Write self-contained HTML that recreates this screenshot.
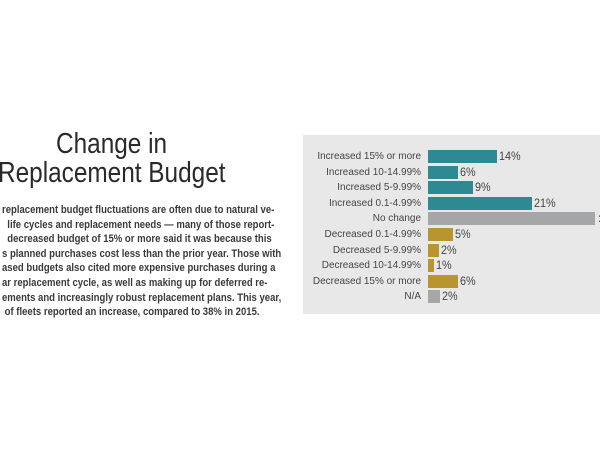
<!DOCTYPE html><html><head><style>
body{margin:0;width:600px;height:450px;background:#fff;position:relative;overflow:hidden;font-family:"Liberation Sans",sans-serif;color:#333}
.t{position:absolute;font-size:29px;white-space:nowrap;color:#2a2a2a;transform:scaleX(0.84);transform-origin:0 0}
.p{position:absolute;left:2px;top:203px;font-size:10.6px;font-weight:bold;line-height:14.6px;white-space:nowrap;color:#3a3a3a;transform:scaleX(0.9);transform-origin:0 0}
.panel{position:absolute;left:303px;top:135px;width:297px;height:179px;background:#e8e8e8}
.r{position:absolute;left:0;height:14px}
.l{position:absolute;width:140px;text-align:right;font-size:10.5px;line-height:14px;color:#444;transform:scaleX(0.95);transform-origin:100% 0}
.b{position:absolute;left:125px;top:1px;height:13px}
.v{position:absolute;top:0;font-size:12px;line-height:14px;color:#444;transform:scaleX(0.9);transform-origin:0 0}
</style></head><body>
<div class="t" style="left:56px;top:128px">Change in</div>
<div class="t" style="left:-2px;top:157px">Replacement Budget</div>
<div class="p">replacement budget fluctuations are often due to natural ve-<br>&nbsp;&nbsp;life cycles and replacement needs — many of those report-<br>&nbsp;&nbsp;decreased budget of 15% or more said it was because this<br>s planned purchases cost less than the prior year. Those with<br>ased budgets also cited more expensive purchases during a<br>ar replacement cycle, as well as making up for deferred re-<br>ements and increasingly robust replacement plans. This year,<br>&nbsp;of fleets reported an increase, compared to 38% in 2015.</div>
<div class="panel">
<div class="r" style="top:14px"><div class="l" style="left:-22px">Increased 15% or more</div><div class="b" style="width:69px;background:#2e8a92"></div><div class="v" style="left:196px">14%</div></div>
<div class="r" style="top:29.6px"><div class="l" style="left:-22px">Increased 10-14.99%</div><div class="b" style="width:30px;background:#2e8a92"></div><div class="v" style="left:157px">6%</div></div>
<div class="r" style="top:45.2px"><div class="l" style="left:-22px">Increased 5-9.99%</div><div class="b" style="width:45px;background:#2e8a92"></div><div class="v" style="left:172px">9%</div></div>
<div class="r" style="top:60.8px"><div class="l" style="left:-22px">Increased 0.1-4.99%</div><div class="b" style="width:104px;background:#2e8a92"></div><div class="v" style="left:231px">21%</div></div>
<div class="r" style="top:76.4px"><div class="l" style="left:-22px">No change</div><div class="b" style="width:167px;background:#a5a6a8"></div><div class="v" style="left:295px">:</div></div>
<div class="r" style="top:92px"><div class="l" style="left:-22px">Decreased 0.1-4.99%</div><div class="b" style="width:25px;background:#b8952e"></div><div class="v" style="left:152px">5%</div></div>
<div class="r" style="top:107.6px"><div class="l" style="left:-22px">Decreased 5-9.99%</div><div class="b" style="width:11px;background:#b8952e"></div><div class="v" style="left:138px">2%</div></div>
<div class="r" style="top:123.2px"><div class="l" style="left:-22px">Decreased 10-14.99%</div><div class="b" style="width:6px;background:#b8952e"></div><div class="v" style="left:133px">1%</div></div>
<div class="r" style="top:138.8px"><div class="l" style="left:-22px">Decreased 15% or more</div><div class="b" style="width:30px;background:#b8952e"></div><div class="v" style="left:157px">6%</div></div>
<div class="r" style="top:154.4px"><div class="l" style="left:-22px">N/A</div><div class="b" style="width:12px;background:#a5a6a8"></div><div class="v" style="left:139px">2%</div></div>
</div>
</body></html>
